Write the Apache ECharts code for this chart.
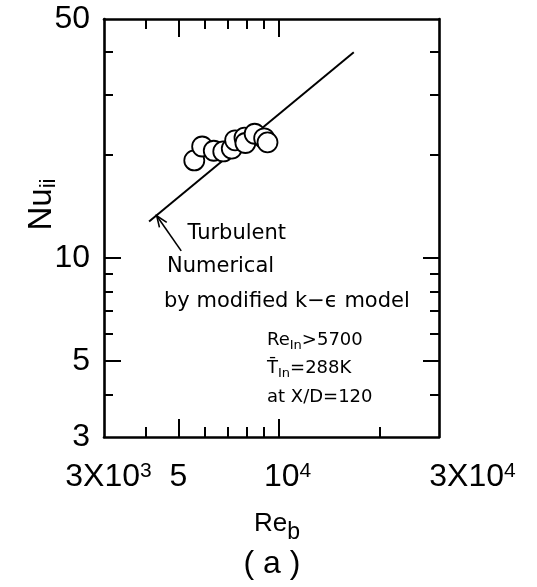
<!DOCTYPE html>
<html>
<head>
<meta charset="utf-8">
<script src="https://cdn.jsdelivr.net/npm/echarts@6/dist/echarts.min.js"></script>
<style>
  html, body { margin: 0; padding: 0; background: #fff; }
  #chart { width: 537px; height: 587px; }
</style>
</head>
<body>
<div id="chart"></div>
<script>
// Local Nusselt number against bulk Reynolds number, log-log axes.

// measured points (open circles)
const reMeasured = [5580, 5890, 6380, 6810, 7220, 7390, 7880, 7930, 8450, 9020, 9230];
const nuMeasured = [19.3, 21.2, 20.6, 20.5, 20.9, 22.1, 22.5, 21.7, 23.1, 22.4, 21.8];

// numerical result, modified k-epsilon model (straight on log-log)
const reModel = [4090, 16700];
const nuModel = [12.8, 40.0];

// leader arrow from the "Turbulent" note to the start of the model curve
const arrowRe = [5100, 4310];
const arrowNu = [10.5, 13.3];

// axis ranges, ticks and labels
const xRange = [3000, 30000];
const yRange = [3, 50];
const xMajorTicks = [5000, 10000];
const xMinorBottom = [4000, 6000, 7000, 8000, 9000, 20000];
const xMinorTop = [4000, 6000, 7000, 8000, 9000];
const yMajorTicks = [5, 10];
const yMinorTicks = [4, 6, 7, 8, 9, 20, 30, 40];
const xTickLabels = [3000, 5000, 10000, 30000];
const yTickLabels = [3, 5, 10, 50];

const SANS = '"Liberation Sans", Arial, sans-serif';
const WIDE = '"DejaVu Sans", sans-serif';

// text measuring, used to chain normal text and sub/superscript pieces
const measureCtx = document.createElement('canvas').getContext('2d');
function textWidth(t, size, family) {
  measureCtx.font = size + 'px ' + family;
  return measureCtx.measureText(t).width;
}
// pieces: [text, fontSize, fontFamily, baselineDrop]; (x, y) is the start of the baseline
function textRun(x, y, pieces, rotated) {
  let s = 0;
  const out = [];
  pieces.forEach(function (p) {
    const t = p[0], size = p[1], fam = p[2], drop = p[3] || 0;
    const mid = -0.346 * size + drop;
    const el = {
      type: 'text',
      style: { text: t, fontSize: size, fontFamily: fam, fill: '#000',
               align: 'left', verticalAlign: 'middle' }
    };
    if (rotated) { el.x = x + mid; el.y = y - s; el.rotation = Math.PI / 2; }
    else { el.x = x + s; el.y = y + mid; }
    out.push(el);
    s += textWidth(t, size, fam);
  });
  return out;
}

const chart = echarts.init(document.getElementById('chart'), null, { renderer: 'canvas' });

function xAxisDef(position, ticks, len, opts) {
  return Object.assign({
    type: 'log', logBase: 10, gridIndex: 0, position: position,
    min: xRange[0], max: xRange[1],
    axisLine: { show: false },
    axisTick: { show: true, inside: true, length: len, customValues: ticks,
                lineStyle: { color: '#000', width: 2 } },
    axisLabel: { show: false },
    splitLine: { show: false }
  }, opts || {});
}
function yAxisDef(position, ticks, len, opts) {
  return Object.assign({
    type: 'log', logBase: 10, gridIndex: 0, position: position,
    min: yRange[0], max: yRange[1],
    axisLine: { show: false },
    axisTick: { show: true, inside: true, length: len, customValues: ticks,
                lineStyle: { color: '#000', width: 2 } },
    axisLabel: { show: false },
    splitLine: { show: false }
  }, opts || {});
}

const boxLine = { show: true, lineStyle: { color: '#000', width: 2.6 } };

function xLabel(v) {
  if (v === 3000) return '{b0|3X10}{s|3}';
  if (v === 5000) return '{b|5}';
  if (v === 10000) return '{b1|10}{s|4}';
  if (v === 30000) return '{b3|3X10}{s|4}';
  return '';
}
const bigNum = { fontSize: 32, lineHeight: 32, verticalAlign: 'top', fontFamily: SANS, color: '#000' };

const graphics = [].concat(
  // axis titles
  textRun(53, 230.5, [['Nu', 33, SANS, 0], ['ii', 22, SANS, 3.4]], true),
  textRun(254, 532.5, [['Re', 26, SANS, 0], ['b', 23, SANS, 8.5]]),
  // notes inside the plot
  textRun(187.5, 241, [['Turbulent', 21, WIDE, 0]]),
  textRun(167, 273.5, [['Numerical', 21, WIDE, 0]]),
  textRun(164, 308.5, [['by modified k\u2212\u03f5 model', 21, WIDE, 0]]),
  textRun(267, 346.7, [['Re', 18, WIDE, 0], ['In', 13, WIDE, 3.3], ['>5700', 18, WIDE, 0]]),
  textRun(267, 375, [['T\u0304', 18, WIDE, 0], ['In', 13, WIDE, 3.3], ['=288K', 18, WIDE, 0]]),
  textRun(267, 403.3, [['at X/D=120', 18, WIDE, 0]]),
  // panel tag
  [{
    type: 'text', x: 272, y: 564,
    style: { text: '( a )', fontSize: 32, fontFamily: SANS, fill: '#000',
             align: 'center', verticalAlign: 'middle' }
  }]
);

const option = {
  backgroundColor: '#fff',
  animation: false,
  grid: { left: 104, right: 98, top: 19, bottom: 150, containLabel: false },
  xAxis: [
    xAxisDef('bottom', xMajorTicks, 18, {
      axisLine: boxLine,
      axisLabel: {
        show: true, customValues: xTickLabels, margin: 24, formatter: xLabel,
        rich: {
          b: bigNum,
          b0: Object.assign({}, bigNum, { padding: [0, 0, 0, 9] }),
          b1: Object.assign({}, bigNum, { padding: [0, 0, 0, 17] }),
          b3: Object.assign({}, bigNum, { padding: [0, 0, 0, 67] }),
          s: { fontSize: 21, lineHeight: 21, verticalAlign: 'top', fontFamily: SANS, color: '#000' }
        }
      }
    }),
    xAxisDef('bottom', xMinorBottom, 10),
    xAxisDef('top', xMajorTicks, 18, { axisLine: boxLine }),
    xAxisDef('top', xMinorTop, 10)
  ],
  yAxis: [
    yAxisDef('left', yMajorTicks, 17, {
      axisLine: boxLine,
      axisLabel: {
        show: true, customValues: yTickLabels, margin: 14,
        fontSize: 32, fontFamily: SANS, color: '#000',
        formatter: v => String(Math.round(v))
      }
    }),
    yAxisDef('left', yMinorTicks, 9),
    yAxisDef('right', yMajorTicks, 16, { axisLine: boxLine }),
    yAxisDef('right', yMinorTicks, 9)
  ],
  series: [
    {
      name: 'k-epsilon model', type: 'line', xAxisIndex: 0, yAxisIndex: 0,
      data: reModel.map((r, i) => [r, nuModel[i]]),
      showSymbol: false, symbol: 'none',
      lineStyle: { color: '#000', width: 2 }, z: 2
    },
    {
      name: 'leader', type: 'custom', coordinateSystem: 'cartesian2d',
      xAxisIndex: 0, yAxisIndex: 0,
      data: [[arrowRe[0], arrowNu[0], arrowRe[1], arrowNu[1]]],
      encode: { x: [0, 2], y: [1, 3] },
      renderItem: function (params, api) {
        const tail = api.coord([api.value(0), api.value(1)]);
        const tip = api.coord([api.value(2), api.value(3)]);
        const ang = Math.atan2(tail[1] - tip[1], tail[0] - tip[0]);
        const L = 12, spread = 0.38;
        const b1 = [tip[0] + L * Math.cos(ang + spread), tip[1] + L * Math.sin(ang + spread)];
        const b2 = [tip[0] + L * Math.cos(ang - spread), tip[1] + L * Math.sin(ang - spread)];
        return {
          type: 'group',
          children: [
            { type: 'line', shape: { x1: tail[0], y1: tail[1], x2: tip[0], y2: tip[1] },
              style: { stroke: '#000', lineWidth: 1.6 } },
            { type: 'polyline', shape: { points: [b1, tip, b2] },
              style: { stroke: '#000', fill: null, lineWidth: 1.6 } }
          ]
        };
      },
      z: 2
    },
    {
      name: 'measured', type: 'scatter', xAxisIndex: 0, yAxisIndex: 0,
      data: reMeasured.map((r, i) => [r, nuMeasured[i]]),
      symbol: 'circle', symbolSize: 20,
      itemStyle: { color: '#fff', borderColor: '#000', borderWidth: 1.8, opacity: 1 },
      z: 3
    }
  ],
  graphic: graphics
};

chart.setOption(option);
</script>
</body>
</html>
